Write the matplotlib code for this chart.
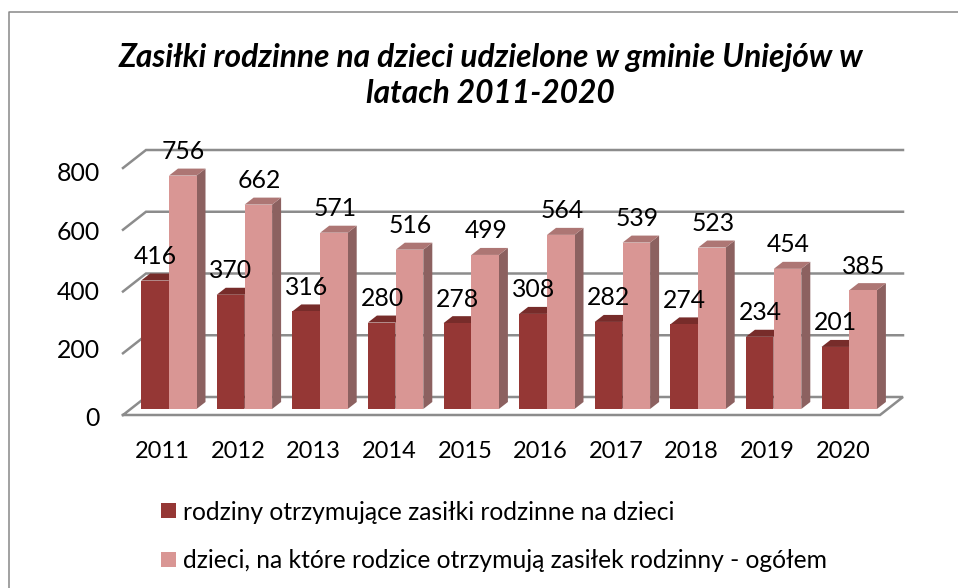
import matplotlib
matplotlib.use("Agg")
import matplotlib.pyplot as plt
from matplotlib.patches import Polygon, Rectangle

years = ["2011","2012","2013","2014","2015","2016","2017","2018","2019","2020"]
families = [416,370,316,280,278,308,282,274,234,201]
children = [756,662,571,516,499,564,539,523,454,385]
y_ticks = [0,200,400,600,800]
title = "Zasiłki rodzinne na dzieci udzielone w gminie Uniejów w\nlatach 2011-2020"
legend_labels = ["rodziny otrzymujące zasiłki rodzinne na dzieci",
                 "dzieci, na które rodzice otrzymują zasiłek rodzinny - ogółem"]

W, H = 958, 588
FONT = "Lato"
plt.rcParams["font.family"] = [FONT, "DejaVu Sans"]
fig = plt.figure(figsize=(W/100, H/100), dpi=100)
ax = fig.add_axes([0, 0, 1, 1])
PX, PY, X0, Y0 = 75.6, 0.30875, 169.0, 409.0
ax.set_xlim((0-X0)/PX, (W-X0)/PX)
ax.set_ylim((Y0-H)/PY, Y0/PY)
ax.axis("off")

DX, DY = 9/PX, 7/PY
BW = 27.5/PX
GX, GY = 23/PX, 18/PY          # wall depth
FX0 = (123-X0)/PX; FX1 = (880-X0)/PX
FY0 = (409-415)/PY
GRID = "#8c8c8c"

fx = lambda p: (p-X0)/PX
fy = lambda p: (Y0-p)/PY
# frame: left and top edges only, the top runs off the right edge
ax.plot([fx(9), fx(9), fx(958)], [fy(588), fy(12), fy(12)], color="#888888", lw=1.1, zorder=1)

# walls and floor
for t in y_ticks[1:]:
    yy = t + FY0
    ax.plot([FX0, FX0+GX, FX1+GX], [yy, yy+GY, yy+GY], color=GRID, lw=1.8, zorder=2, solid_joinstyle="miter")
ax.plot([FX0, FX0+GX, FX1+GX, FX1, FX0], [FY0, FY0+GY, FY0+GY, FY0, FY0], color=GRID, lw=1.8, zorder=2, solid_joinstyle="miter")

SH = dict(lw=0)
def bar3d(x, v, front, top, side, z):
    ax.add_patch(Polygon([(x+BW, 0), (x+BW+DX, DY), (x+BW+DX, v+DY), (x+BW, v)], fc=side, zorder=z, **SH))
    ax.add_patch(Polygon([(x, v), (x+DX, v+DY), (x+BW+DX, v+DY), (x+BW, v)], fc=top, zorder=z, **SH))
    ax.bar(x, v, width=BW, bottom=0, align="edge", color=front, lw=0, zorder=z+0.1)

for i, (a, b) in enumerate(zip(families, children)):
    bar3d(i-BW-0.005, a, "#953735", "#772c2a", "#772c2a", 3+i)
    bar3d(i, b, "#d99694", "#ad7674", "#8c6160", 3.5+i)

for i, (a, b) in enumerate(zip(families, children)):
    ax.annotate(str(a), (i-BW/2, a), xytext=(0, 24*0.72), textcoords="offset points", ha="center", va="center",
                fontsize=17.8, color="black", zorder=30)
    ax.annotate(str(b), (i+BW/2+0.012, b), xytext=(0, 24*0.72), textcoords="offset points", ha="center", va="center",
                fontsize=17.8, color="black", zorder=30)
    ax.text(fx(162.5+PX*i), fy(451), years[i], ha="center", va="center", fontsize=17, color="black", zorder=30)

for t, py in zip(y_ticks, [419, 350, 292, 232, 174]):
    ax.text(fx(100), fy(py), str(t), ha="right", va="center", fontsize=17.8, color="black", zorder=30)

ax.text(fx(490.5), fy(75.5), title, ha="center", va="center", fontsize=22.9, fontweight="bold", fontstyle="italic",
        linespacing=1.32, color="black", zorder=30)

for py, lab, col in zip([510, 559], legend_labels, ["#953735", "#d99694"]):
    ax.add_patch(Rectangle((fx(161), fy(py+7.5)), 15/PX, 15/PY, fc=col, lw=0, zorder=30))
    ax.text(fx(183), fy(py+2), lab, ha="left", va="center", fontsize=17.75, color="black", zorder=30)

fig.savefig("out.png", dpi=100)
